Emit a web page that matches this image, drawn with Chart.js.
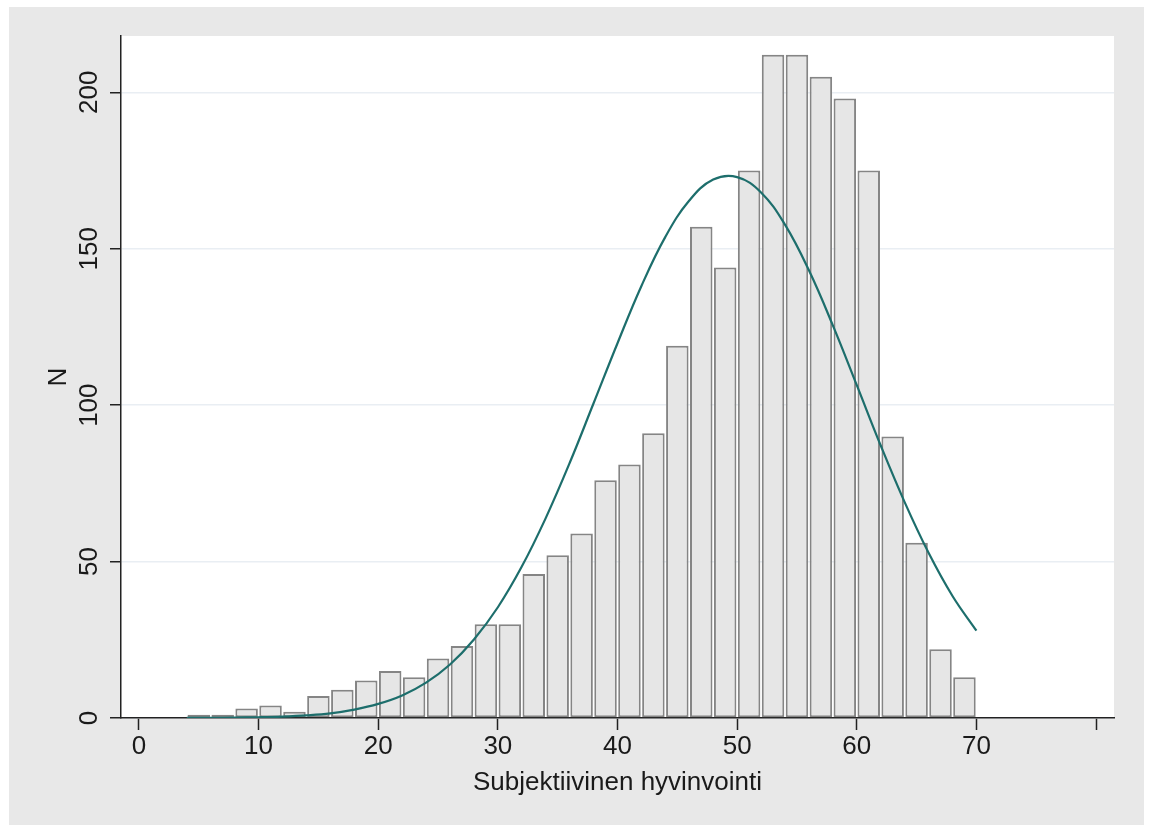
<!DOCTYPE html>
<html>
<head>
<meta charset="utf-8">
<script src="https://cdn.jsdelivr.net/npm/chart.js@4.4.1/dist/chart.umd.min.js"></script>
<style>
  html, body { margin: 0; padding: 0; background: #ffffff; }
  #wrap { width: 1149px; height: 825px; }
</style>
</head>
<body>
<div id="wrap"><canvas id="canvas" width="1149" height="825"></canvas></div>
<script>
// histogram bins (2 units wide), given by their centre
const binMid = [5, 7, 9, 11, 13, 15, 17, 19, 21, 23, 25, 27, 29, 31, 33, 35, 37,
                39, 41, 43, 45, 47, 49, 51, 53, 55, 57, 59, 61, 63, 65, 67, 69];
const counts = [1, 1, 3, 4, 2, 7, 9, 12, 15, 13, 19, 23, 30, 30, 46, 52, 59,
                76, 81, 91, 119, 157, 144, 175, 212, 212, 205, 198, 175, 90, 56, 22, 13];

// normal curve
const curveX = [4, 6, 8, 10, 12, 14, 16, 18, 20, 22, 24, 26, 28, 30, 32, 34, 36, 38,
                40, 42, 44, 46, 48, 50, 52, 54, 56, 58, 60, 62, 64, 66, 68, 70];
const curveY = [0.03, 0.06, 0.12, 0.24, 0.46, 0.85, 1.5, 2.7, 4.5, 7.2, 11.3, 17.1, 25.1, 35.4,
                48.4, 63.9, 81.5, 100.6, 119.8, 138.1, 153.8, 165.4, 172.1, 172.9, 168.0, 157.7,
                143.1, 125.5, 106.4, 87.1, 69.0, 52.8, 39.0, 27.9];

const xTicks = [0, 10, 20, 30, 40, 50, 60, 70, 80];
const xLabels = ["0", "10", "20", "30", "40", "50", "60", "70", ""];
const yTicks = [0, 50, 100, 150, 200];

const xTitle = "Subjektiivinen hyvinvointi";
const yTitle = "N";

const FONT = "'Liberation Sans', Arial, Helvetica, sans-serif";

// fonds gris / blanc façon Stata + textes de l'axe y tournés
const stataLook = {
    id: "stataLook",
    beforeDraw(chart) {
        const ctx = chart.ctx;
        const a = chart.chartArea;
        ctx.save();
        ctx.fillStyle = "#ffffff";
        ctx.fillRect(0, 0, chart.width, chart.height);
        ctx.fillStyle = "#e8e8e8";
        ctx.fillRect(9, 7, 1135, 818);
        ctx.fillStyle = "#ffffff";
        ctx.fillRect(a.left, a.top, a.right - a.left, a.bottom - a.top);
        ctx.restore();
    },
    afterDraw(chart) {
        const ctx = chart.ctx;
        const a = chart.chartArea;
        const yScale = chart.scales.y;
        ctx.save();
        ctx.fillStyle = "#1a1a1a";
        ctx.font = "26px " + FONT;
        ctx.textAlign = "center";
        ctx.textBaseline = "middle";
        for (let i = 0; i < yTicks.length; i++) {
            const py = yScale.getPixelForValue(yTicks[i]);
            ctx.save();
            ctx.translate(90, py);
            ctx.rotate(-Math.PI / 2);
            ctx.fillText(String(yTicks[i]), 0, 0);
            ctx.restore();
        }
        ctx.save();
        ctx.translate(59, (a.top + a.bottom) / 2);
        ctx.rotate(-Math.PI / 2);
        ctx.fillText(yTitle, 0, 0);
        ctx.restore();
        ctx.restore();
    }
};

const barData = binMid.map((x, i) => ({ x: x, y: counts[i] }));
const lineData = curveX.map((x, i) => ({ x: x, y: curveY[i] }));

new Chart(document.getElementById("canvas"), {
    type: "bar",
    data: {
        datasets: [
            {
                type: "line",
                data: lineData,
                borderColor: "#1d6e6c",
                borderWidth: 2.2,
                pointRadius: 0,
                tension: 0.4,
                fill: false,
                order: 0
            },
            {
                type: "bar",
                data: barData,
                backgroundColor: "#e6e6e6",
                borderColor: "#858585",
                borderWidth: 2,
                borderSkipped: false,
                barPercentage: 0.94,
                categoryPercentage: 1.0,
                order: 1
            }
        ]
    },
    plugins: [stataLook],
    options: {
        responsive: false,
        animation: false,
        devicePixelRatio: 1,
        layout: { padding: { left: 0, top: 36, right: 35, bottom: 0 } },
        plugins: {
            legend: { display: false },
            tooltip: { enabled: false }
        },
        scales: {
            x: {
                type: "linear",
                min: -1.5,
                max: 81.5,
                offset: false,
                afterFit: function(scale) { scale.height = 107; },
                afterBuildTicks: function(scale) {
                    scale.ticks = xTicks.map(v => ({ value: v }));
                },
                grid: {
                    offset: false,
                    drawOnChartArea: false,
                    drawTicks: true,
                    tickLength: 12,
                    tickColor: "#222222",
                    tickWidth: 1.5
                },
                border: { display: true, color: "#222222", width: 1.5 },
                ticks: {
                    autoSkip: false,
                    maxRotation: 0,
                    padding: 1,
                    color: "#1a1a1a",
                    font: { family: FONT, size: 26 },
                    callback: function(value) {
                        const k = xTicks.indexOf(value);
                        return k >= 0 ? xLabels[k] : "";
                    }
                },
                title: {
                    display: true,
                    text: xTitle,
                    color: "#1a1a1a",
                    font: { family: FONT, size: 26 },
                    padding: { top: 0, bottom: 27 }
                }
            },
            y: {
                type: "linear",
                min: 0,
                max: 218,
                afterFit: function(scale) { scale.width = 121; },
                afterBuildTicks: function(scale) {
                    scale.ticks = yTicks.map(v => ({ value: v }));
                },
                grid: {
                    color: "#e9eef3",
                    lineWidth: 1.5,
                    drawTicks: true,
                    tickLength: 11,
                    tickColor: "#222222",
                    tickWidth: 1.5
                },
                border: { display: true, color: "#222222", width: 1.5 },
                ticks: { display: false }
            }
        }
    }
});
</script>
</body>
</html>
